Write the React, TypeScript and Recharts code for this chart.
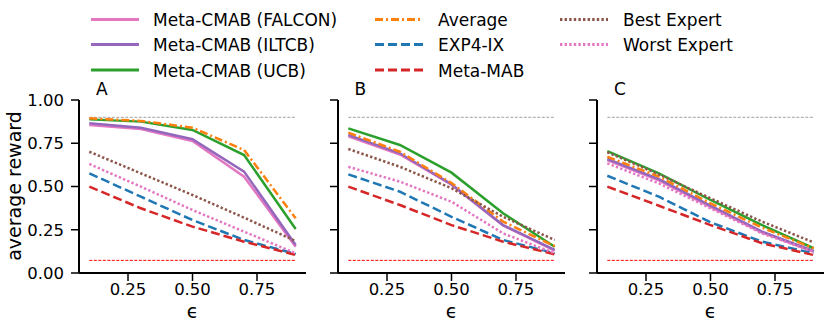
import React from 'react';
import { LineChart, Line, XAxis, YAxis, Label } from 'recharts';

const epsilons = [0.1, 0.3, 0.5, 0.7, 0.9];
const panelLabels = ['A', 'B', 'C'];
const xTicks = [0.25, 0.5, 0.75];
const yTicks = [0, 0.25, 0.5, 0.75, 1];
const bestPossible = 0.9;
const randomBaseline = 0.073;

// Panel A
const falconA = [0.855, 0.832, 0.763, 0.557, 0.152];
const iltcbA = [0.865, 0.84, 0.773, 0.586, 0.162];
const ucbA = [0.888, 0.875, 0.827, 0.682, 0.254];
const averageA = [0.894, 0.879, 0.84, 0.711, 0.316];
const exp4A = [0.576, 0.441, 0.306, 0.191, 0.11];
const metaMabA = [0.499, 0.374, 0.268, 0.181, 0.104];
const bestExpertA = [0.701, 0.576, 0.451, 0.32, 0.185];
const worstExpertA = [0.63, 0.499, 0.364, 0.239, 0.114];

// Panel B
const falconB = [0.79, 0.685, 0.51, 0.275, 0.13];
const iltcbB = [0.798, 0.692, 0.513, 0.277, 0.133];
const ucbB = [0.836, 0.74, 0.58, 0.345, 0.152];
const averageB = [0.811, 0.701, 0.52, 0.297, 0.155];
const exp4B = [0.57, 0.47, 0.325, 0.191, 0.114];
const metaMabB = [0.499, 0.393, 0.277, 0.181, 0.108];
const bestExpertB = [0.717, 0.614, 0.49, 0.325, 0.191];
const worstExpertB = [0.614, 0.528, 0.412, 0.229, 0.114];

// Panel C
const falconC = [0.652, 0.535, 0.382, 0.234, 0.122];
const iltcbC = [0.659, 0.543, 0.389, 0.239, 0.127];
const ucbC = [0.705, 0.576, 0.422, 0.277, 0.143];
const averageC = [0.672, 0.557, 0.403, 0.262, 0.143];
const exp4C = [0.562, 0.441, 0.293, 0.181, 0.114];
const metaMabC = [0.499, 0.389, 0.277, 0.172, 0.104];
const bestExpertC = [0.698, 0.57, 0.432, 0.297, 0.177];
const worstExpertC = [0.634, 0.518, 0.374, 0.229, 0.123];

const FONT = 'DejaVu Sans';

const seriesDefs = [
  { key: 'falcon', name: 'Meta-CMAB (FALCON)', color: '#e377c2', dash: undefined as string | undefined },
  { key: 'iltcb', name: 'Meta-CMAB (ILTCB)', color: '#9467bd', dash: undefined },
  { key: 'ucb', name: 'Meta-CMAB (UCB)', color: '#2ca02c', dash: undefined },
  { key: 'average', name: 'Average', color: '#ff7f0e', dash: '8 3 2 3' },
  { key: 'exp4', name: 'EXP4-IX', color: '#1f77b4', dash: '9 4' },
  { key: 'metaMab', name: 'Meta-MAB', color: '#d62728', dash: '9 4' },
  { key: 'bestExpert', name: 'Best Expert', color: '#8c564b', dash: '2.4 2.2' },
  { key: 'worstExpert', name: 'Worst Expert', color: '#e377c2', dash: '2.4 2.2' },
];

const panelValues = [
  { falcon: falconA, iltcb: iltcbA, ucb: ucbA, average: averageA, exp4: exp4A, metaMab: metaMabA, bestExpert: bestExpertA, worstExpert: worstExpertA },
  { falcon: falconB, iltcb: iltcbB, ucb: ucbB, average: averageB, exp4: exp4B, metaMab: metaMabB, bestExpert: bestExpertB, worstExpert: worstExpertB },
  { falcon: falconC, iltcb: iltcbC, ucb: ucbC, average: averageC, exp4: exp4C, metaMab: metaMabC, bestExpert: bestExpertC, worstExpert: worstExpertC },
];

function buildRows(values: Record<string, number[]>) {
  return epsilons.map((eps, i) => {
    const row: Record<string, number> = { eps, top: bestPossible, bottom: randomBaseline };
    for (const s of seriesDefs) row[s.key] = values[s.key][i];
    return row;
  });
}

const plotLefts = [79, 337.5, 597];
const YW = 79;

function Panel({ index }: { index: number }) {
  const rows = buildRows(panelValues[index]);
  const showY = index === 0;
  return (
    <div style={{ position: 'absolute', left: plotLefts[index] - YW, top: 0 }}>
      <LineChart width={316} height={329} data={rows} margin={{ top: 100, right: 10, bottom: 0, left: 0 }}>
        <XAxis
          dataKey="eps"
          type="number"
          domain={[0.06, 0.94]}
          ticks={xTicks}
          tickFormatter={(v: number) => v.toFixed(2)}
          height={56}
          tickSize={8}
          tickMargin={2}
          axisLine={{ stroke: '#000', strokeWidth: 2 }}
          tickLine={{ stroke: '#000', strokeWidth: 1.5 }}
          tick={{ fontSize: 16.5, fill: '#000', fontFamily: FONT }}
          allowDataOverflow
        >
          <Label value="ϵ" position="insideBottom" offset={11} style={{ fontSize: 19, fill: '#000', fontFamily: FONT }} />
        </XAxis>
        <YAxis
          type="number"
          domain={[0, 1]}
          ticks={yTicks}
          width={YW}
          tickFormatter={(v: number) => (showY ? v.toFixed(2) : '')}
          tickSize={8}
          tickMargin={7}
          axisLine={{ stroke: '#000', strokeWidth: 2 }}
          tickLine={{ stroke: '#000', strokeWidth: 1.5 }}
          tick={{ fontSize: 16.5, fill: '#000', fontFamily: FONT }}
          allowDataOverflow
        />
        <Line dataKey="top" stroke="#a0a0a0" strokeWidth={1} strokeDasharray="3 1.5" dot={false} isAnimationActive={false} />
        <Line dataKey="bottom" stroke="#ff0000" strokeWidth={1} strokeDasharray="3 1.5" dot={false} isAnimationActive={false} />
        {seriesDefs.map((s) => (
          <Line
            key={s.key}
            dataKey={s.key}
            type="linear"
            stroke={s.color}
            strokeWidth={2.5}
            strokeDasharray={s.dash}
            dot={false}
            isAnimationActive={false}
          />
        ))}
      </LineChart>
    </div>
  );
}

const legendCols = [
  { lineX: 91, textX: 153 },
  { lineX: 375, textX: 438 },
  { lineX: 560, textX: 623 },
];
const legendRowsY = [19.5, 44.5, 70];

function Overlay() {
  return (
    <svg width={831} height={329} style={{ position: 'absolute', left: 0, top: 0, pointerEvents: 'none' }}>
      {seriesDefs.map((s, i) => {
        const col = legendCols[Math.floor(i / 3)];
        const y = legendRowsY[i % 3];
        return (
          <g key={s.key}>
            <line x1={col.lineX} x2={col.lineX + 48} y1={y} y2={y} stroke={s.color} strokeWidth={3} strokeDasharray={s.dash} />
            <text x={col.textX} y={y + 6.5} fontSize={17} fontFamily={FONT} fill="#000">{s.name}</text>
          </g>
        );
      })}
      {panelLabels.map((l, i) => (
        <text key={l} x={plotLefts[i] + 17} y={95} fontSize={17} fontFamily={FONT} fill="#000">{l}</text>
      ))}
      <text transform="translate(21,186) rotate(-90)" textAnchor="middle" fontSize={19} fontFamily={FONT} fill="#000">average reward</text>
    </svg>
  );
}

export default function App() {
  return (
    <div style={{ position: 'absolute', left: 0, top: 0, width: 831, height: 329, background: '#fff', overflow: 'hidden' }}>
      {[0, 1, 2].map((i) => (
        <Panel key={i} index={i} />
      ))}
      <Overlay />
    </div>
  );
}
